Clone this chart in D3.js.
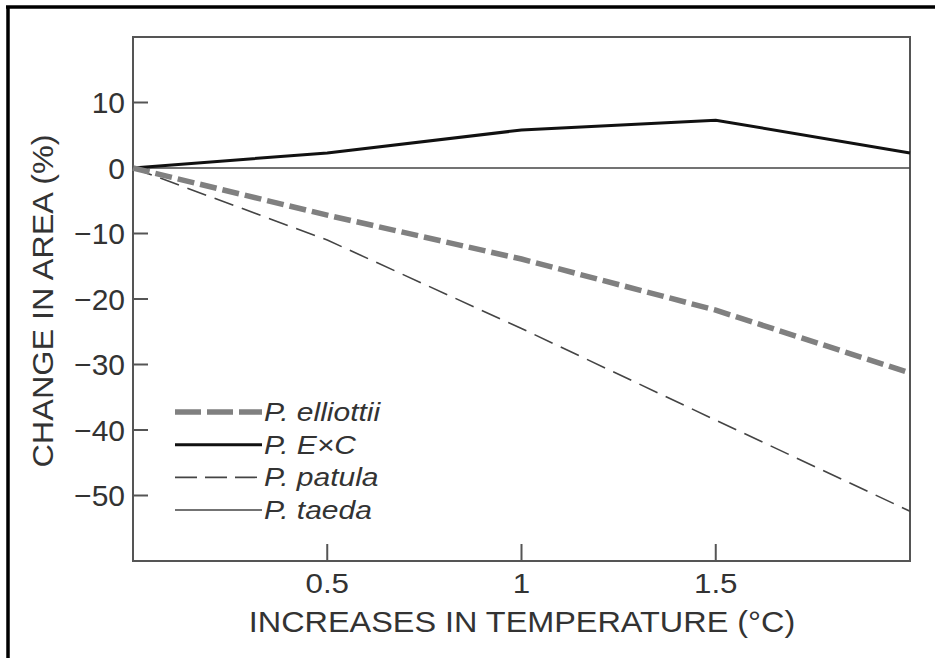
<!DOCTYPE html>
<head>
<meta charset="utf-8"/>
<title>Change in area</title>
<style>
body { margin: 0; background: #fff; }
svg { display: block; }
text { font-family: "Liberation Sans", Arial, sans-serif; fill: #333; }
.frame { stroke: #000; stroke-width: 3.5; }
.box { fill: none; stroke: #555; stroke-width: 2; }
.tick-mark { stroke: #555; stroke-width: 2; }
.legend text { font-style: italic; }
</style>
</head>
<body>
<svg width="935" height="658"></svg>
<script src="https://d3js.org/d3.v7.min.js"></script>
<script>

// temperature increase steps (x) and change in area (%) per species
var temps = [0, 0.5, 1, 1.5, 2];
var elliottii = [0, -7.2, -13.9, -21.7, -31.3];
var exc = [0, 2.3, 5.8, 7.3, 2.3];
var patula = [0, -11.0, -24.5, -38.5, -52.4];
var taeda = [0, 0, 0, 0, 0];

var xTicks = [0.5, 1, 1.5];
var yTicks = [10, 0, -10, -20, -30, -40, -50];
var seriesNames = ["P. elliottii", "P. E\u00d7C", "P. patula", "P. taeda"];

var svg = d3.select("svg");

// outer frame, only top and left edges show
svg.append("line").attr("class", "frame")
    .attr("x1", 6).attr("x2", 935).attr("y1", 7).attr("y2", 7);
svg.append("line").attr("class", "frame")
    .attr("x1", 8).attr("x2", 8).attr("y1", 6).attr("y2", 658);

var x = d3.scaleLinear().domain([0, 2]).range([133, 910]);
var y = d3.scaleLinear().domain([-60, 20]).range([561, 37]);

// stretch text a bit wider, the scan is wider than Arial
function stretch(sel, k) {
  sel.each(function() {
    var w = this.getComputedTextLength();
    d3.select(this).attr("textLength", w * k).attr("lengthAdjust", "spacingAndGlyphs");
  });
}

svg.append("rect").attr("class", "box")
    .attr("x", x(0)).attr("y", y(20))
    .attr("width", x(2) - x(0)).attr("height", y(-60) - y(20));

// y ticks point inward
svg.selectAll(".ytick").data(yTicks).enter().append("line")
    .attr("class", "tick-mark")
    .attr("x1", x(0)).attr("x2", x(0) + 15)
    .attr("y1", function(d) { return y(d); })
    .attr("y2", function(d) { return y(d); });

svg.selectAll(".ylab").data(yTicks).enter().append("text")
    .attr("x", 125)
    .attr("y", function(d) { return y(d); })
    .attr("dy", "0.36em")
    .style("text-anchor", "end")
    .style("font-size", "30px")
    .text(function(d) { return d < 0 ? "\u2212" + Math.abs(d) : d; });

svg.selectAll(".xtick").data(xTicks).enter().append("line")
    .attr("class", "tick-mark")
    .attr("x1", function(d) { return x(d); })
    .attr("x2", function(d) { return x(d); })
    .attr("y1", y(-60)).attr("y2", y(-60) - 17);

svg.selectAll(".xlab").data(xTicks).enter().append("text")
    .attr("x", function(d) { return x(d); })
    .attr("y", 593)
    .style("text-anchor", "middle")
    .style("font-size", "28px")
    .text(function(d) { return d; })
    .call(stretch, 1.12);

svg.append("text")
    .attr("x", 522).attr("y", 632)
    .style("text-anchor", "middle")
    .style("font-size", "30px")
    .text("INCREASES IN TEMPERATURE (\u00b0C)")
    .call(stretch, 1.08);

svg.append("text")
    .attr("transform", "translate(53,301) rotate(-90)")
    .style("text-anchor", "middle")
    .style("font-size", "30px")
    .text("CHANGE IN AREA (%)")
    .call(stretch, 1.08);

var line = d3.line()
    .x(function(d, i) { return x(temps[i]); })
    .y(function(d) { return y(d); });

var styles = [
  {data: elliottii, color: "#808080", width: 5.5, dash: "17,6", legDash: "26,6"},
  {data: exc, color: "#111", width: 3, dash: null, legDash: null},
  {data: patula, color: "#444", width: 1.6, dash: "20,9", legDash: "22,8"},
  {data: taeda, color: "#444", width: 1.4, dash: null, legDash: null}
];

// draw back to front: taeda, patula, E×C, elliottii
svg.append("g").selectAll("path")
    .data(styles.slice().reverse())
    .enter().append("path")
    .attr("d", function(d) { return line(d.data); })
    .attr("fill", "none")
    .attr("stroke", function(d) { return d.color; })
    .attr("stroke-width", function(d) { return d.width; })
    .attr("stroke-dasharray", function(d) { return d.dash; });

var legend = svg.append("g").attr("class", "legend");
var rowY = d3.scalePoint().domain(seriesNames).range([412, 510]);

legend.selectAll("line").data(styles).enter().append("line")
    .attr("x1", 175).attr("x2", 262)
    .attr("y1", function(d, i) { return rowY(seriesNames[i]); })
    .attr("y2", function(d, i) { return rowY(seriesNames[i]); })
    .attr("stroke", function(d) { return d.color; })
    .attr("stroke-width", function(d) { return d.width; })
    .attr("stroke-dasharray", function(d) { return d.legDash; });

legend.selectAll("text").data(seriesNames).enter().append("text")
    .attr("x", 264)
    .attr("y", function(d) { return rowY(d) + 9; })
    .style("font-size", "25px")
    .text(function(d) { return d; })
    .call(stretch, 1.2);

</script>
</body>
</html>
